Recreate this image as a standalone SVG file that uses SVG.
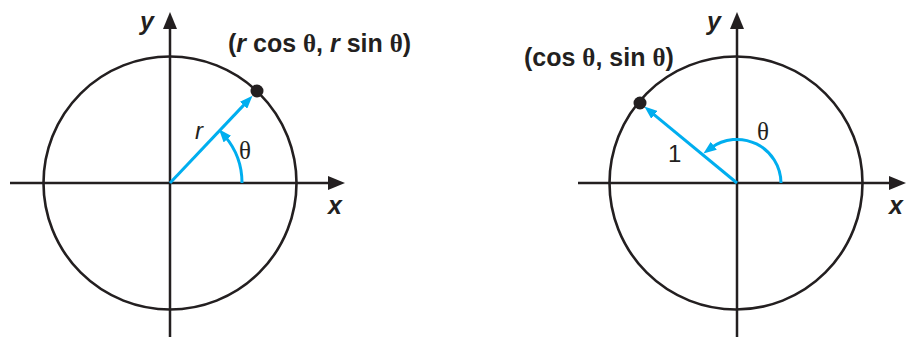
<svg xmlns="http://www.w3.org/2000/svg" width="906" height="337" viewBox="0 0 906 337">
<style>
.ax{stroke:#231f20;stroke-width:2.5;fill:none}
.circ{stroke:#231f20;stroke-width:2.6;fill:none}
.bl{stroke:#00aeef;stroke-width:3;fill:none}
.dot{fill:#231f20}
.lab{font-family:"Liberation Sans",Arial,sans-serif;font-weight:bold;font-size:25px;fill:#231f20}
.it{font-style:italic}
.th{font-family:"Liberation Serif","Times New Roman",serif}
.num{font-family:"Liberation Sans",Arial,sans-serif;font-size:24px;fill:#231f20}
.tl{font-family:"Liberation Serif","Times New Roman",serif;font-size:25px;fill:#231f20}
</style>
<defs>
<marker id="ka" markerUnits="userSpaceOnUse" markerWidth="18" markerHeight="14" refX="4" refY="7" orient="auto" viewBox="0 0 18 14">
<path d="M0,0 L17,7 L0,14 z" fill="#231f20"/>
</marker>
<marker id="ba" markerUnits="userSpaceOnUse" markerWidth="14" markerHeight="10" refX="4" refY="5" orient="auto" viewBox="0 0 14 10">
<path d="M0,0 L13,5 L0,10 z" fill="#00aeef"/>
</marker>
</defs>
<g id="left-figure">
<g id="left-axes">
<line class="ax" x1="10" y1="183" x2="332" y2="183" marker-end="url(#ka)"/>
<line class="ax" x1="170" y1="337" x2="170" y2="25" marker-end="url(#ka)"/>
</g>
<circle id="left-circle" class="circ" cx="170" cy="183" r="126.5"/>
<g id="left-connectors">
<line class="bl" x1="170" y1="183" x2="246.3" y2="102.4" marker-end="url(#ba)"/>
<path class="bl" d="M242,183 A72,72 0 0 0 224.8,136.1" marker-end="url(#ba)"/>
</g>
<circle id="left-point" class="dot" cx="257" cy="91" r="6.5"/>
<text class="lab it" x="140" y="30">y</text>
<text class="lab it" x="328" y="214">x</text>
<text class="num it" x="195" y="139">r</text>
<text class="tl" x="239" y="159">θ</text>
<text class="lab" x="228" y="52">(<tspan class="it">r</tspan> cos <tspan class="th">θ</tspan>, <tspan class="it">r</tspan> sin <tspan class="th">θ</tspan>)</text>
</g>
<g id="right-figure">
<g id="right-axes">
<line class="ax" x1="578" y1="183" x2="893" y2="183" marker-end="url(#ka)"/>
<line class="ax" x1="737" y1="337" x2="737" y2="25" marker-end="url(#ka)"/>
</g>
<circle id="right-circle" class="circ" cx="736" cy="183" r="126.5"/>
<g id="right-connectors">
<line class="bl" x1="737" y1="183" x2="651.3" y2="112.3" marker-end="url(#ba)"/>
<path class="bl" d="M781,183 A44,44 0 0 0 710.6,148.2" marker-end="url(#ba)"/>
</g>
<circle id="right-point" class="dot" cx="640" cy="103" r="6.5"/>
<text class="lab it" x="707" y="30">y</text>
<text class="lab it" x="889" y="214">x</text>
<text class="num" x="668" y="162">1</text>
<text class="tl" x="757" y="140">θ</text>
<text class="lab" x="524" y="66">(cos <tspan class="th">θ</tspan>, sin <tspan class="th">θ</tspan>)</text>
</g>
</svg>
